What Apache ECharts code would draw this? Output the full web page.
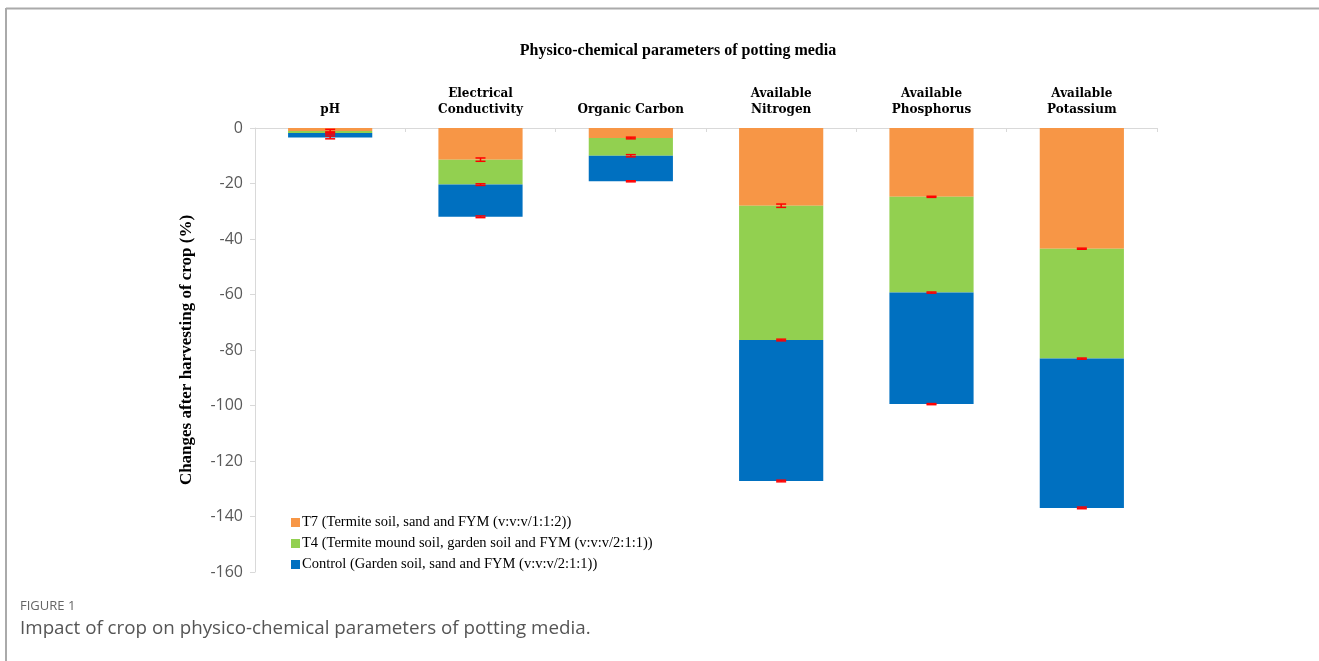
<!DOCTYPE html>
<html>
<head>
<meta charset="utf-8">
<script src="https://cdn.jsdelivr.net/npm/echarts@6/dist/echarts.min.js"></script>
<style>
html,body{margin:0;padding:0;background:#fff;}
#chart{width:1319px;height:661px;}
</style>
</head>
<body>
<div id="chart"></div>
<script>
const categories = ['pH', 'Electrical\nConductivity', 'Organic Carbon', 'Available\nNitrogen', 'Available\nPhosphorus', 'Available\nPotassium'];
const seriesNames = ['T7 (Termite soil, sand and FYM (v:v:v/1:1:2))', 'T4 (Termite mound soil, garden soil and FYM (v:v:v/2:1:1))', 'Control (Garden soil, sand and FYM (v:v:v/2:1:1))'];
const t7 = [-1.1, -11.4, -3.6, -28.0, -24.8, -43.5];
const t4 = [-0.7, -9.0, -6.4, -48.4, -34.5, -39.6];
const control = [-1.6, -11.6, -9.2, -50.8, -40.2, -53.8];
const t7Err = [0.6, 0.6, 0.3, 0.6, 0.2, 0.2];
const t4Err = [0.4, 0.3, 0.4, 0.3, 0.2, 0.2];
const controlErr = [0.5, 0.3, 0.2, 0.3, 0.2, 0.3];
const yTicks = [0, -20, -40, -60, -80, -100, -120, -140, -160];

const colors = ['#F79646', '#92D050', '#0070C0'];
const seriesValues = [t7, t4, control];
const seriesErrs = [t7Err, t4Err, controlErr];

// error-bar points at the cumulative stack ends
const errData = [];
const cum = categories.map(() => 0);
seriesValues.forEach((vals, s) => {
  vals.forEach((v, i) => {
    cum[i] += v;
    errData.push([i, cum[i], seriesErrs[s][i]]);
  });
});

const chart = echarts.init(document.getElementById('chart'));
const option = {
  animation: false,
  backgroundColor: '#fff',
  title: {
    text: 'Physico-chemical parameters of potting media',
    left: 673, top: 38, textAlign: 'center',
    textStyle: {fontFamily: 'Liberation Serif', fontWeight: 'bold', fontSize: 16, color: '#000'}
  },
  legend: {
    orient: 'vertical', left: 286, top: 510,
    itemWidth: 9, itemHeight: 9, itemGap: 6,
    icon: 'rect',
    data: seriesNames,
    textStyle: {fontFamily: 'Liberation Serif', fontSize: 14.5, color: '#000', padding: [0, 0, 0, -3]}
  },
  grid: {left: 255, right: 162, top: 128, bottom: 89, containLabel: false},
  xAxis: {
    type: 'category', position: 'top', data: categories,
    axisLine: {show: true, lineStyle: {color: '#d9d9d9', width: 1}},
    axisTick: {show: true, inside: true, length: 4, lineStyle: {color: '#d9d9d9'}},
    axisLabel: {
      interval: 0, margin: 10,
      fontFamily: 'DejaVu Serif', fontWeight: 'bold', fontSize: 12, color: '#000', lineHeight: 16
    }
  },
  yAxis: {
    type: 'value', min: -160, max: 0, interval: 20,
    name: 'Changes after harvesting of crop (%)',
    nameLocation: 'middle', nameGap: 60, nameRotate: 90,
    nameTextStyle: {fontFamily: 'Liberation Serif', fontWeight: 'bold', fontSize: 17, color: '#000'},
    axisLine: {show: true, lineStyle: {color: '#d9d9d9'}},
    axisTick: {show: true, length: 5, lineStyle: {color: '#d9d9d9'}},
    splitLine: {show: false},
    axisLabel: {
      margin: 12, fontFamily: 'Open Sans', fontSize: 16, color: '#595959',
      formatter: v => yTicks.includes(v) ? String(v) : ''
    }
  },
  series: seriesNames.map((n, s) => ({
    name: n, type: 'bar', stack: 'total', barWidth: '56%',
    data: seriesValues[s],
    itemStyle: {color: colors[s]}
  })).concat([{
    type: 'custom', name: 'err', silent: true, z: 10,
    data: errData,
    renderItem: function (params, api) {
      const i = api.value(0), v = api.value(1), e = api.value(2);
      const hi = api.coord([i, v + e]);
      const lo = api.coord([i, v - e]);
      const hw = 5;
      const st = {stroke: '#FF0000', lineWidth: 1.5};
      return {type: 'group', children: [
        {type: 'line', shape: {x1: hi[0], y1: hi[1], x2: lo[0], y2: lo[1]}, style: st},
        {type: 'line', shape: {x1: hi[0] - hw, y1: hi[1], x2: hi[0] + hw, y2: hi[1]}, style: st},
        {type: 'line', shape: {x1: lo[0] - hw, y1: lo[1], x2: lo[0] + hw, y2: lo[1]}, style: st}
      ]};
    }
  }]),
  graphic: [
    {type: 'line', shape: {x1: 6, y1: 8.5, x2: 1319, y2: 8.5}, style: {stroke: '#aaaaaa', lineWidth: 2}},
    {type: 'line', shape: {x1: 6, y1: 8, x2: 6, y2: 661}, style: {stroke: '#aaaaaa', lineWidth: 2}},
    {type: 'text', left: 20, top: 600, style: {text: 'FIGURE 1', font: '13px "Open Sans"', fill: '#666666'}},
    {type: 'text', left: 20, top: 619, style: {text: 'Impact of crop on physico-chemical parameters of potting media.', font: '18.8px "Open Sans"', fill: '#555555'}}
  ]
};
chart.setOption(option);
</script>
</body>
</html>
